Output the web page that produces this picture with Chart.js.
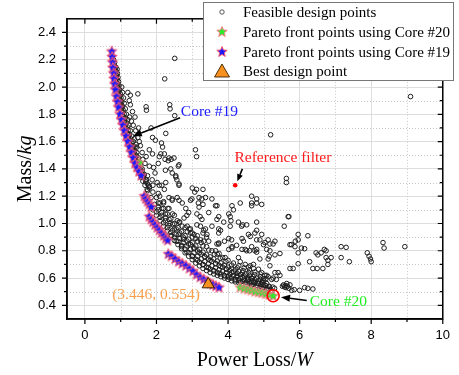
<!DOCTYPE html>
<html>
<head>
<meta charset="utf-8">
<script src="https://cdn.jsdelivr.net/npm/chart.js@4.4.0/dist/chart.umd.min.js"></script>
<style>
  html, body { margin: 0; padding: 0; background: #fff; }
  #wrap { width: 459px; height: 375px; position: relative; }
</style>
</head>
<body>
<div id="wrap"><canvas id="chart"></canvas></div>
<script>

// ---- data (Power Loss / W, Mass / kg) ----

// dense band of feasible designs hugging the pareto front (upper, steep part)
var feasibleBandUpper = [
	[0.83,2.18],[0.84,2.15],[0.85,2.12],[0.86,2.09],[0.87,2.06],[0.885,2.03],[0.9,2.0],[0.915,1.97],[0.93,1.94],[0.95,1.91],
	[0.97,1.88],[0.99,1.85],[1.01,1.82],[1.03,1.79],[1.055,1.76],[1.08,1.73],[1.11,1.7],[1.14,1.67],[1.17,1.64],[1.2,1.61],
	[1.24,1.58],[1.27,1.55],[1.31,1.52],[1.35,1.49],[1.39,1.46],[1.43,1.43],[1.47,1.40],[1.52,1.37],[1.57,1.34],[1.62,1.31],
	[1.68,1.28],[1.74,1.25],
	[0.865,2.145],[0.875,2.115],[0.885,2.085],[0.9,2.055],[0.915,2.025],[0.93,1.995],[0.95,1.965],[0.97,1.935],[0.99,1.905],
	[1.01,1.875],[1.03,1.845],[1.055,1.815],[1.075,1.785],[1.1,1.755],[1.13,1.725],[1.16,1.695],[1.19,1.665],[1.22,1.635],
	[1.26,1.605],[1.29,1.575],[1.33,1.545],[1.37,1.515],[1.41,1.485],[1.45,1.455],[1.5,1.425],[1.54,1.395],[1.59,1.365],
	[1.64,1.335],[1.7,1.305],
	[0.8,2.2],[0.81,2.16],[0.82,2.12],[0.835,2.08],[0.85,2.04],[0.87,2.0],[0.89,1.96],[0.91,1.92],[0.94,1.88],[0.97,1.84],
	[1.0,1.8],[1.04,1.76],[1.08,1.72],[1.12,1.68],[1.16,1.64],[1.21,1.6],[1.26,1.56],[1.31,1.52],[1.36,1.48],[1.41,1.445],
	[1.46,1.415],[1.52,1.385],[1.58,1.355],
	[0.9,2.13],[0.91,2.10],[0.925,2.07],[0.94,2.04],[0.955,2.01],[0.97,1.98],[0.99,1.95],[1.01,1.92],[1.03,1.89],[1.05,1.86],
	[1.07,1.83],[1.1,1.80],[1.12,1.77],[1.15,1.74],[1.18,1.71],[1.21,1.68],[1.24,1.65],[1.28,1.62],[1.31,1.59],[1.35,1.56],
	[1.39,1.53],[1.43,1.50],[1.47,1.47],[1.51,1.44],[1.56,1.41],[1.6,1.38],[1.65,1.35],[1.7,1.32],[1.75,1.29],[1.8,1.26],
	[1.03,2.0],[1.05,1.96],[1.08,1.92],[1.1,1.88],[1.13,1.84],[1.16,1.80],[1.2,1.76],[1.23,1.72],[1.27,1.68],[1.31,1.64],
	[1.35,1.60],[1.4,1.56],[1.45,1.52],[1.5,1.48],[1.55,1.44],[1.6,1.40],[1.66,1.36],[1.72,1.32],[1.78,1.28]
];

// dense band, lower flat part
var feasibleBandLower = [
	[1.7,1.2],[1.8,1.15],[1.9,1.1],[2.0,1.06],[2.1,1.02],[2.2,0.98],[2.3,0.945],[2.4,0.91],[2.5,0.875],[2.6,0.845],
	[2.7,0.815],[2.8,0.785],[2.9,0.76],[3.0,0.735],[3.1,0.71],[3.2,0.69],[3.3,0.67],[3.4,0.655],[3.5,0.64],[3.6,0.63],
	[3.7,0.62],[3.8,0.61],[3.9,0.6],[4.0,0.59],[4.1,0.58],[4.2,0.572],[4.3,0.565],[4.4,0.558],[4.5,0.55],[4.6,0.543],
	[4.7,0.536],[4.8,0.53],[4.9,0.524],[5.0,0.518],[5.1,0.512],[5.2,0.506],
	[2.0,1.085],[2.1,1.045],[2.2,1.005],[2.3,0.97],[2.4,0.935],[2.5,0.9],[2.6,0.87],[2.7,0.84],[2.8,0.812],[2.9,0.787],
	[3.0,0.762],[3.1,0.738],[3.2,0.717],[3.3,0.697],[3.4,0.68],[3.5,0.665],[3.6,0.652],[3.7,0.64],[3.8,0.63],[3.9,0.62],
	[4.0,0.61],[4.1,0.6],[4.2,0.592],[4.3,0.584],[4.4,0.577],[4.5,0.57],[4.6,0.562],[4.7,0.555],[4.8,0.548],[4.9,0.54],
	[5.0,0.534],[5.1,0.527],
	[1.75,1.24],[1.85,1.19],[1.95,1.14],[2.05,1.1],[2.15,1.06],[2.25,1.02],[2.35,0.985],[2.45,0.95],[2.55,0.92],[2.65,0.89],
	[2.75,0.86],[2.85,0.835],[2.95,0.81],[3.05,0.785],[3.15,0.76],[3.25,0.74],[3.35,0.72],[3.45,0.705],[3.55,0.69],[3.65,0.675],
	[3.75,0.66],[3.85,0.65],[3.95,0.64],[4.05,0.63],[4.15,0.62],[4.25,0.61],[4.35,0.6],[4.45,0.592],[4.55,0.584],[4.65,0.576],
	[4.75,0.568],[4.85,0.56],[4.95,0.553],[5.05,0.546],[5.15,0.54],[5.25,0.534],
	[2.05,1.15],[2.15,1.11],[2.25,1.07],[2.35,1.03],[2.45,0.995],[2.55,0.96],[2.65,0.93],[2.75,0.9],[2.85,0.872],[2.95,0.847],
	[3.05,0.822],[3.15,0.798],[3.25,0.776],[3.35,0.757],[3.45,0.74],[3.55,0.723],[3.65,0.708],[3.75,0.693],[3.85,0.68],[3.95,0.667],
	[4.05,0.655],[4.15,0.645],[4.25,0.635],[4.35,0.625],[4.45,0.615],[4.55,0.605],[4.65,0.597],[4.75,0.588],[4.85,0.58],[4.95,0.572],
	[1.8,1.27],[1.9,1.23],[2.0,1.19],[2.1,1.15],[2.2,1.11],[2.3,1.07],[2.4,1.035],[2.5,1.0],[2.6,0.97],[2.7,0.94],
	[2.8,0.91],[2.9,0.885],[3.0,0.86],[3.1,0.835],[3.2,0.81],[3.3,0.79],[3.4,0.77],[3.5,0.755],[3.6,0.74],[3.7,0.725],
	[3.8,0.71],[3.9,0.695],[4.0,0.68],[4.1,0.67],[4.2,0.66],[4.3,0.65],[4.4,0.64],[4.5,0.63],[4.6,0.62],[4.7,0.61],
	[4.8,0.6],[4.9,0.59],[5.0,0.58],
	[1.9,1.28],[2.05,1.22],[2.2,1.16],[2.35,1.11],[2.5,1.06],[2.65,1.01],[2.8,0.97],[2.95,0.93],[3.1,0.89],[3.25,0.86],
	[3.4,0.83],[3.55,0.8],[3.7,0.775],[3.85,0.75],[4.0,0.73],[4.15,0.71],[4.3,0.69],[4.45,0.675],[4.6,0.66],[4.75,0.645],
	[4.9,0.63],
	[2.05,1.12],[2.15,1.08],[2.26,1.04],[2.38,1.0],[2.5,0.96],[2.62,0.92],[2.75,0.885],[2.9,0.85],[3.05,0.815],[3.2,0.785],
	[3.35,0.755],[3.5,0.73],[3.65,0.705],[3.8,0.685],[3.95,0.665],[4.1,0.64],[4.25,0.62],[4.4,0.605],[4.55,0.59],[4.7,0.575],
	[4.85,0.56],[5.0,0.55],[5.15,0.535],[5.3,0.525],
	[2.09,1.2],[2.2,1.15],[2.32,1.11],[2.45,1.07],[2.58,1.02],[2.72,0.98],[2.86,0.94],[3.0,0.9],[3.15,0.87],[3.3,0.835],
	[3.46,0.805],[3.62,0.775],[3.78,0.745],[3.94,0.72],[4.1,0.695],[4.26,0.675],[4.42,0.655],[4.58,0.64],[4.74,0.625],[4.9,0.61],
	[5.06,0.595],
	[2.42,0.91],[2.55,0.87],[2.7,0.83],[2.85,0.79],[3.0,0.76],[3.15,0.73],[3.3,0.7],[3.45,0.675],[3.6,0.655],[3.75,0.635],
	[3.9,0.615],[4.05,0.6],[4.2,0.585],[4.35,0.57],[4.5,0.555],[4.65,0.545],[4.8,0.535],[4.95,0.525],[5.1,0.515],[5.22,0.5]
];

// scattered feasible designs
var feasibleScatter = [
	[2.51,2.21],[2.23,2.06],[1.2,1.96],[1.27,1.94],[1.48,1.95],[1.24,1.9],[1.27,1.87],[1.71,1.855],[1.72,1.83],[2.37,1.87],
	[2.38,1.84],[2.51,1.79],[1.85,1.70],[2.26,1.66],[1.97,1.61],[2.14,1.59],[2.17,1.56],[3.09,1.54],[3.12,1.49],[2.08,1.49],
	[2.24,1.47],[2.33,1.46],[2.41,1.47],[1.71,1.49],[2.61,1.42],[1.8,1.42],[1.92,1.41],[1.96,1.37],[2.4,1.40],[2.44,1.37],
	[2.54,1.35],[2.57,1.32],[2.63,1.29],[1.75,1.35],[1.88,1.32],[2.02,1.30],[2.15,1.28],
	[1.35,1.72],[1.42,1.68],[1.38,1.62],[1.48,1.63],[1.55,1.57],[1.45,1.56],[1.6,1.52],[1.4,1.78],[1.3,1.75],[1.5,1.7],
	[1.33,1.82],[1.25,1.78],[1.52,1.6],[1.62,1.47],[1.68,1.44],[1.89,1.63],[1.8,1.54],[1.89,1.51],[2.12,1.51],[2.22,1.51],
	[2.35,1.48],[2.49,1.48],[1.43,1.58],
	[2.25,1.39],[2.05,1.44],[2.63,1.43],[2.54,1.34],[2.08,1.28],[2.26,1.30],[2.35,1.19],[2.58,1.19],[2.95,1.17],[3.07,1.23],
	[3.12,1.25],[3.37,1.19],[3.19,1.12],[3.69,1.13],[2.82,1.11],[2.9,1.08],[2.85,1.06],[3.13,1.07],[3.22,1.05],[3.46,1.08],
	[3.69,1.03],[4.11,1.13],[4.15,1.10],[4.34,1.15],[4.66,1.15],[4.8,1.18],[4.02,1.07],[4.08,1.02],[4.29,1.01],[4.41,0.99],
	[4.8,1.01],[3.23,0.98],[3.32,0.95],[3.41,0.92],[2.86,0.98],[2.95,0.96],[3.55,0.98],[3.05,0.92],[3.14,0.91],[3.23,0.88],
	[3.32,0.87],[3.74,0.93],[4.02,0.89],[4.1,0.88],[4.39,0.89],[4.48,0.81],[4.6,0.8],[4.8,0.81],[4.02,0.81],[3.65,0.80],
	[3.75,0.78],[3.46,0.87],[2.63,1.28],[3.65,1.13],[4.52,0.99],[4.57,0.92],[4.11,0.82],[4.29,0.75],[3.69,0.85],[3.92,0.75],
	[2.22,1.25],[2.44,1.17],[2.63,1.17],[2.72,1.15],[3.0,1.26],[3.3,1.25],[3.17,1.15],[3.3,1.14],[2.63,1.01],[2.77,1.04],
	[2.91,0.96],[3.0,0.93],[3.13,0.99],[3.3,0.93],[3.4,0.9],[3.74,0.96],[3.88,1.01],[2.44,1.18],[2.99,1.18],[3.19,1.19],
	[3.27,1.18],[3.55,1.18],[3.27,1.03],[3.74,1.05],[3.37,0.96],[3.79,0.95],[3.9,0.87],[3.74,0.85],
	[4.62,0.905],[4.94,0.92],[5.12,0.88],[5.31,0.87],[5.77,0.845],[3.74,0.857],[4.11,0.83],[4.24,0.84],[4.43,0.87],[4.66,0.83],
	[4.8,0.79],[4.99,0.845],[5.08,0.81],[5.17,0.80],[5.31,0.77],[5.45,0.78],[4.89,0.74],[5.12,0.74],[4.34,0.72],[4.48,0.70],
	[4.62,0.69],[4.71,0.67],[4.85,0.665],[5.17,0.69],[5.4,0.64],[5.45,0.62],[5.03,0.62],[5.12,0.61],[5.26,0.60],[5.35,0.59],
	[4.94,0.57],[5.08,0.56],[4.57,0.595],[4.71,0.57],
	[4.66,1.20],[4.66,1.13],[4.8,1.15],[4.94,1.14],[5.68,1.05],[5.57,0.98],[5.96,0.92],[6.23,0.91],[5.96,0.88],[5.88,0.87],
	[5.73,0.845],[5.87,0.83],[6.05,0.82],[6.14,0.815],[5.96,0.785],[6.46,0.785],[6.51,0.77],[6.6,0.785],[6.69,0.81],[6.74,0.80],
	[6.28,0.72],[6.74,0.75],[6.79,0.73],[6.79,0.70],[6.88,0.75],[5.73,0.67],[5.82,0.67],[6.37,0.67],[6.49,0.67],[6.65,0.67],
	[5.96,0.705],[7.16,0.83],[7.3,0.825],[7.16,0.75],[7.39,0.72],[7.89,0.785],[7.94,0.76],[7.98,0.74],[8.0,0.72],[8.33,0.86],
	[8.36,0.82],[8.94,0.83],[4.06,1.05],[4.38,0.98],[4.06,0.98],[4.75,0.93],[4.8,0.88],[4.89,0.88],[5.03,0.86],[5.17,0.85],
	[5.26,0.85],[5.15,0.76],[4.39,0.81],[4.52,0.80],[4.75,0.80],[4.57,0.68],[4.71,0.70],[4.94,0.64],[5.08,0.62],[5.22,0.59],
	[5.31,0.64],[4.99,0.595],[6.14,0.53],[6.23,0.525],[6.37,0.52],[6.0,0.51],
	[5.55,0.55],[5.6,0.545],[5.62,0.53],[5.66,0.54],[5.7,0.525],[5.73,0.55],[5.78,0.51],[5.85,0.515],[5.64,0.56],[5.58,0.535],
	[5.52,0.54],
	[9.1,1.93],[5.19,1.65],[5.63,1.33],[5.63,1.30],[5.7,1.05],[4.8,0.95]
];

// pareto front, core #19 (blue stars)
var paretoCore19 = [
	[0.75,2.26],[0.76,2.22],[0.77,2.18],[0.78,2.14],[0.8,2.1],[0.81,2.06],[0.83,2.02],[0.85,1.98],[0.88,1.93],[0.91,1.89],
	[0.94,1.85],[0.98,1.8],[1.02,1.76],[1.06,1.72],[1.1,1.68],[1.15,1.64],[1.2,1.6],[1.25,1.56],[1.3,1.52],[1.35,1.48],
	[1.4,1.44],[1.45,1.41],[1.51,1.38],[1.57,1.35],
	[1.66,1.2],[1.7,1.18],[1.75,1.16],[1.8,1.14],[1.85,1.12],
	[1.8,1.05],[1.85,1.03],[1.9,1.01],[1.96,0.99],[2.02,0.97],[2.08,0.95],[2.14,0.93],[2.2,0.91],[2.26,0.89],[2.31,0.875],
	[2.33,0.775],[2.42,0.76],[2.52,0.74],[2.62,0.72],[2.72,0.705],[2.82,0.69],[2.92,0.67],[3.02,0.65],[3.12,0.625],[3.22,0.605],
	[3.32,0.59],[3.42,0.575],[3.5,0.56],[3.58,0.55],[3.66,0.54],[3.75,0.53]
];

// pareto front, core #20 (green stars)
var paretoCore20 = [
	[1.52,1.445],[4.34,0.53],[4.45,0.522],[4.55,0.515],[4.65,0.508],[4.75,0.5],[4.85,0.495],[4.95,0.49],[5.05,0.482],[5.15,0.476],
	[5.26,0.468]
];

var bestPoint = [[3.446, 0.554]];
var referenceFilter = [[4.2, 1.28]];
var core20Pick = [[5.26, 0.47]];

// tick values: labelled ones and the full grid (odd ones are dotted)
var xTicks = [0, 2, 4, 6, 8, 10];
var xGrid = [0, 1, 2, 3, 4, 5, 6, 7, 8, 9, 10];
var yTicks = [0.4, 0.6, 0.8, 1.0, 1.2, 1.4, 1.6, 1.8, 2.0, 2.2, 2.4];
var yGrid = [0.4, 0.5, 0.6, 0.7, 0.8, 0.9, 1.0, 1.1, 1.2, 1.3, 1.4, 1.5, 1.6, 1.7, 1.8, 1.9, 2.0, 2.1, 2.2, 2.3, 2.4];

var legendLabels = [
	"Feasible design points",
	"Pareto front points using Core #20",
	"Pareto front points using Core #19",
	"Best design point"
];

// ---- helpers ----

function toXY(list) {
	return list.map(function (p) { return { x: p[0], y: p[1] }; });
}

function isMajorX(v) {
	return xTicks.some(function (t) { return Math.abs(t - v) < 1e-6; });
}
function isMajorY(v) {
	return yTicks.some(function (t) { return Math.abs(t - v) < 1e-6; });
}

function starCanvas(fill, stroke, R) {
	var s = Math.ceil(R * 2 + 3);
	var c = document.createElement('canvas');
	c.width = s; c.height = s;
	var g = c.getContext('2d');
	g.beginPath();
	for (var i = 0; i < 10; i++) {
		var r = i % 2 ? R * 0.45 : R;
		var a = -Math.PI / 2 + i * Math.PI / 5;
		g.lineTo(s / 2 + r * Math.cos(a), s / 2 + r * Math.sin(a));
	}
	g.closePath();
	g.fillStyle = fill;
	g.fill();
	g.strokeStyle = stroke;
	g.lineWidth = 1;
	g.stroke();
	return c;
}

var blueStar = starCanvas('#1a1aff', '#ff5a6e', 5.5);
var greenStar = starCanvas('#2ee82e', '#ff7a8a', 5.5);

var ORANGE = '#f7901e';

function arrow(ctx, x1, y1, x2, y2, color, hl, hw) {
	var a = Math.atan2(y2 - y1, x2 - x1);
	var bx = x2 - hl * Math.cos(a), by = y2 - hl * Math.sin(a);
	ctx.save();
	ctx.strokeStyle = color;
	ctx.fillStyle = color;
	ctx.lineWidth = 1.6;
	ctx.beginPath();
	ctx.moveTo(x1, y1);
	ctx.lineTo(bx, by);
	ctx.stroke();
	ctx.beginPath();
	ctx.moveTo(x2, y2);
	ctx.lineTo(bx + hw * Math.sin(a), by - hw * Math.cos(a));
	ctx.lineTo(bx - hw * Math.sin(a), by + hw * Math.cos(a));
	ctx.closePath();
	ctx.fill();
	ctx.restore();
}

// roman / italic pieces drawn centred on (cx, cy)
function mixedText(ctx, parts, cx, cy, size) {
	var total = 0;
	parts.forEach(function (p) {
		ctx.font = (p[1] ? 'italic ' : '') + size + 'px "Liberation Serif"';
		total += ctx.measureText(p[0]).width;
	});
	var x = cx - total / 2;
	ctx.textAlign = 'left';
	ctx.textBaseline = 'middle';
	parts.forEach(function (p) {
		ctx.font = (p[1] ? 'italic ' : '') + size + 'px "Liberation Serif"';
		ctx.fillText(p[0], x, cy);
		x += ctx.measureText(p[0]).width;
	});
}

// ---- extras: minor grid, frame ticks, titles, notes, legend ----

var extras = {
	id: 'extras',
	beforeDatasetsDraw: function (chart) {
		var ctx = chart.ctx, a = chart.chartArea;
		var xs = chart.scales.x, ys = chart.scales.y;
		ctx.save();
		ctx.strokeStyle = '#c8c8c8';
		ctx.lineWidth = 1;
		ctx.setLineDash([1, 2]);
		xGrid.forEach(function (v) {
			if (isMajorX(v)) return;
			var px = Math.round(xs.getPixelForValue(v)) + 0.5;
			ctx.beginPath(); ctx.moveTo(px, a.top); ctx.lineTo(px, a.bottom); ctx.stroke();
		});
		yGrid.forEach(function (v) {
			if (isMajorY(v)) return;
			var py = Math.round(ys.getPixelForValue(v)) + 0.5;
			ctx.beginPath(); ctx.moveTo(a.left, py); ctx.lineTo(a.right, py); ctx.stroke();
		});
		ctx.restore();
	},
	afterDraw: function (chart) {
		var ctx = chart.ctx, a = chart.chartArea;
		var xs = chart.scales.x, ys = chart.scales.y;
		var X = function (v) { return xs.getPixelForValue(v); };
		var Y = function (v) { return ys.getPixelForValue(v); };

		// frame and ticks (out on left/bottom, in on top/right)
		ctx.save();
		ctx.strokeStyle = '#000';
		ctx.lineWidth = 1.5;
		ctx.strokeRect(a.left, a.top, a.right - a.left, a.bottom - a.top);
		ctx.lineWidth = 1.2;
		xGrid.forEach(function (v) {
			var len = isMajorX(v) ? 5 : 3;
			var px = X(v);
			ctx.beginPath();
			ctx.moveTo(px, a.bottom); ctx.lineTo(px, a.bottom + len);
			ctx.moveTo(px, a.top); ctx.lineTo(px, a.top + len);
			ctx.stroke();
		});
		yGrid.forEach(function (v) {
			var len = isMajorY(v) ? 5 : 3;
			var py = Y(v);
			ctx.beginPath();
			ctx.moveTo(a.left - len, py); ctx.lineTo(a.left, py);
			ctx.moveTo(a.right - len, py); ctx.lineTo(a.right, py);
			ctx.stroke();
		});
		ctx.restore();

		// axis titles
		ctx.save();
		ctx.fillStyle = '#000';
		mixedText(ctx, [['Power Loss/', false], ['W', true]], (a.left + a.right) / 2, 361, 20);
		ctx.translate(26, (a.top + a.bottom) / 2);
		ctx.rotate(-Math.PI / 2);
		mixedText(ctx, [['Mass/', false], ['kg', true]], 0, 0, 20);
		ctx.restore();

		// notes
		ctx.save();
		ctx.textBaseline = 'middle';
		ctx.font = '15.5px "Liberation Serif"';
		ctx.fillStyle = '#2020ff';
		ctx.textAlign = 'left';
		ctx.fillText('Core #19', X(2.68), Y(1.82));
		arrow(ctx, X(2.66), Y(1.775), X(1.34), Y(1.64), '#000', 9, 3.5);

		ctx.fillStyle = '#ff1a1a';
		ctx.fillText('Reference filter', X(4.18), Y(1.48));
		arrow(ctx, X(4.4), Y(1.40), X(4.26), Y(1.31), '#000', 7, 3);

		ctx.fillStyle = '#f9a050';
		ctx.textAlign = 'center';
		ctx.fillText('(3.446, 0.554)', X(1.99), Y(0.477));

		ctx.fillStyle = '#22ee22';
		ctx.textAlign = 'left';
		ctx.fillText('Core #20', X(6.28), Y(0.424));
		arrow(ctx, X(6.2), Y(0.436), X(5.48), Y(0.46), '#000', 9, 3.5);
		ctx.restore();

		// legend
		ctx.save();
		ctx.fillStyle = '#fff';
		ctx.fillRect(203.5, 2.5, 250, 78);
		ctx.strokeStyle = '#777';
		ctx.lineWidth = 1;
		ctx.strokeRect(203.5, 2.5, 250, 78);
		var rows = [12, 32, 52, 71];
		var sx = 222;
		ctx.strokeStyle = '#444';
		ctx.lineWidth = 0.9;
		ctx.beginPath(); ctx.arc(sx, rows[0], 2.2, 0, Math.PI * 2); ctx.stroke();
		ctx.drawImage(greenStar, sx - greenStar.width / 2, rows[1] - greenStar.height / 2);
		ctx.drawImage(blueStar, sx - blueStar.width / 2, rows[2] - blueStar.height / 2);
		ctx.beginPath();
		ctx.moveTo(sx, rows[3] - 7); ctx.lineTo(sx + 7.5, rows[3] + 6); ctx.lineTo(sx - 7.5, rows[3] + 6);
		ctx.closePath();
		ctx.fillStyle = ORANGE; ctx.fill();
		ctx.strokeStyle = '#3a2000'; ctx.stroke();
		ctx.fillStyle = '#000';
		ctx.font = '15px "Liberation Serif"';
		ctx.textAlign = 'left';
		ctx.textBaseline = 'middle';
		legendLabels.forEach(function (s, i) { ctx.fillText(s, 243, rows[i] + 1); });
		ctx.restore();
	}
};

// ---- chart ----

Chart.defaults.font.family = '"Liberation Sans", Arial, sans-serif';
Chart.defaults.color = '#000';

new Chart(document.getElementById('chart'), {
	type: 'scatter',
	data: {
		datasets: [
			{
				label: legendLabels[0],
				data: toXY(feasibleBandUpper.concat(feasibleBandLower, feasibleScatter)),
				pointStyle: 'circle',
				pointRadius: 2.3,
				pointBorderWidth: 1,
				pointBorderColor: '#1e1e1e',
				pointBackgroundColor: 'rgba(0,0,0,0)',
				order: 6
			},
			{
				label: legendLabels[1],
				data: toXY(paretoCore20),
				pointStyle: greenStar,
				order: 4
			},
			{
				label: legendLabels[2],
				data: toXY(paretoCore19),
				pointStyle: blueStar,
				order: 3
			},
			{
				label: legendLabels[3],
				data: toXY(bestPoint),
				pointStyle: 'triangle',
				pointRadius: 7,
				pointBorderWidth: 1,
				pointBorderColor: '#3a2000',
				pointBackgroundColor: ORANGE,
				order: 2
			},
			{
				label: 'Reference filter',
				data: toXY(referenceFilter),
				pointRadius: 2.3,
				pointBorderWidth: 0,
				pointBackgroundColor: '#ff0000',
				order: 1
			},
			{
				label: 'Core #20',
				data: toXY(core20Pick),
				pointRadius: 6,
				pointBorderWidth: 1.6,
				pointBorderColor: '#ff0000',
				pointBackgroundColor: 'rgba(0,0,0,0)',
				order: 0
			}
		]
	},
	options: {
		responsive: true,
		maintainAspectRatio: false,
		animation: false,
		layout: { padding: { top: 13, right: 12, left: 0, bottom: 0 } },
		plugins: {
			legend: { display: false },
			tooltip: { enabled: false }
		},
		scales: {
			x: {
				type: 'linear',
				min: -0.5,
				max: 10,
				afterFit: function (s) { s.height = 56; },
				afterBuildTicks: function (s) { s.ticks = xTicks.map(function (v) { return { value: v }; }); },
				ticks: {
					autoSkip: false,
					maxRotation: 0,
					padding: 9,
					font: { size: 13 }
				},
				grid: {
					drawTicks: false,
					color: '#dedede'
				},
				border: { color: '#000', width: 1.5 }
			},
			y: {
				type: 'linear',
				min: 0.3,
				max: 2.5,
				afterFit: function (s) { s.width = 67; },
				afterBuildTicks: function (s) { s.ticks = yTicks.map(function (v) { return { value: v }; }); },
				ticks: {
					autoSkip: false,
					padding: 11,
					font: { size: 13 },
					callback: function (v) { return v.toFixed(1); }
				},
				grid: {
					drawTicks: false,
					color: '#dedede'
				},
				border: { color: '#000', width: 1.5 }
			}
		}
	},
	plugins: [extras]
});
</script>
</body>
</html>
